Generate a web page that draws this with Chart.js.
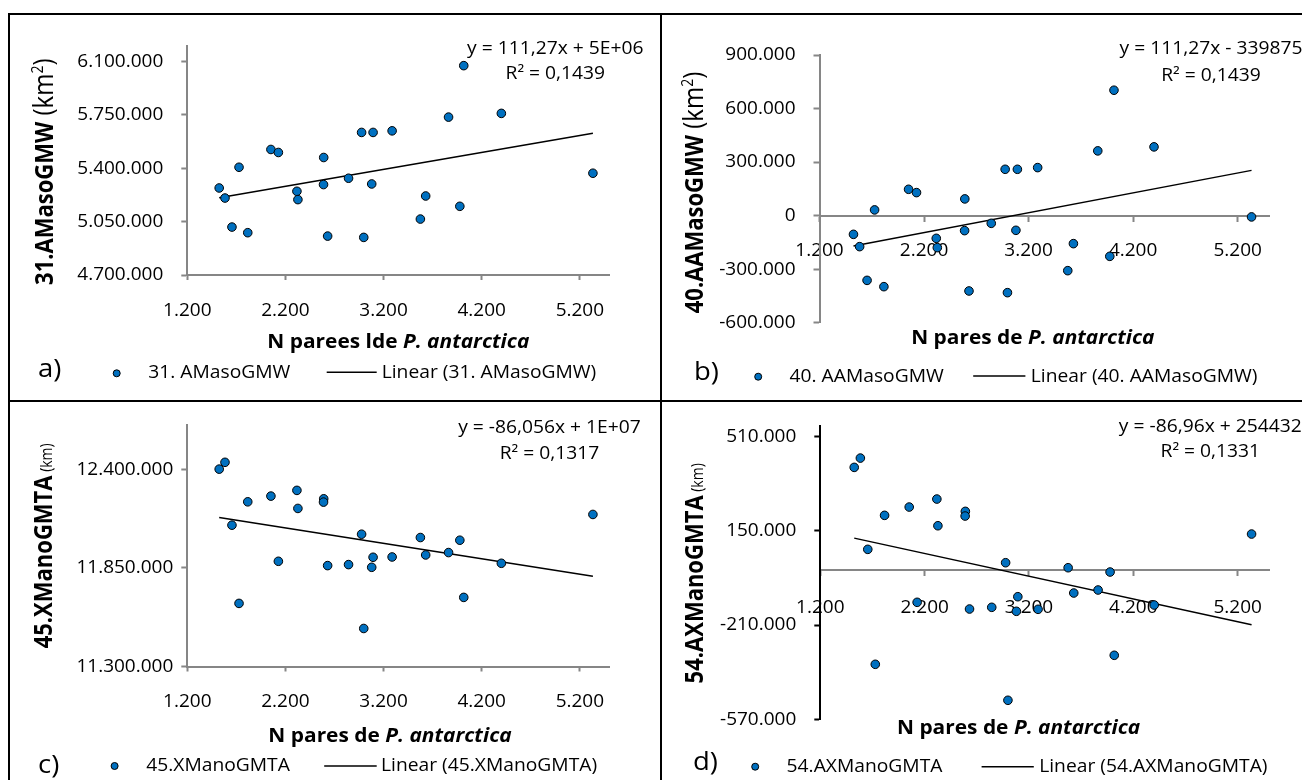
<!DOCTYPE html>
<html>
<head>
<meta charset="utf-8">
<script src="https://cdn.jsdelivr.net/npm/chart.js"></script>
<style>
  html, body { margin: 0; padding: 0; background: #fff; }
  #wrap { position: relative; width: 1302px; height: 780px; overflow: hidden; background: #fff; }
  #wrap canvas { position: absolute; left: 0; top: 0; }
  .rule { position: absolute; background: #000; }
</style>
</head>
<body>
<div id="wrap">
  <canvas id="cA" width="1302" height="780"></canvas>
  <canvas id="cB" width="1302" height="780"></canvas>
  <canvas id="cC" width="1302" height="780"></canvas>
  <canvas id="cD" width="1302" height="780"></canvas>
  <div class="rule" style="left:8px;top:13px;width:1294px;height:2px"></div>
  <div class="rule" style="left:8px;top:13px;width:2px;height:767px"></div>
  <div class="rule" style="left:660px;top:13px;width:2px;height:767px"></div>
  <div class="rule" style="left:8px;top:400px;width:1294px;height:2px"></div>
</div>
<script>
// Number of P. antarctica breeding pairs (shared by all four panels)
const pairsX = [1525, 1584, 1655, 1727, 1816, 2052, 2128, 2317, 2327, 2590, 2588, 2630, 2843,
                2976, 2998, 3093, 3079, 3287, 3575, 3629, 3862, 3977, 4017, 4400, 5333];

// a) 31. AMasoGMW (km²)
const areaA = [5271000, 5205000, 5014500, 5407000, 4977600, 5523700, 5504000, 5249300, 5194700,
               5471000, 5293400, 4955300, 5334900, 5635500, 4946700, 5635500, 5297400, 5646000,
               5067000, 5218400, 5736000, 5150700, 6073700, 5760500, 5367800];
// b) 40. AAMasoGMW (km²)
const anomalyB = [-104900, -173800, -362800, 32000, -398100, 147500, 129000, -127300, -179400,
                  93600, -84100, -422200, -43200, 259600, -431700, 259600, -82400, 269100,
                  -308400, -157000, 362800, -228200, 702600, 385200, -7300];
// c) 45.XManoGMTA (km)
const lengthC = [12401000, 12439000, 12088400, 11652000, 12218700, 12250600, 11886900, 12282500,
                 12181800, 12235500, 12217000, 11862900, 11868500, 12038000, 11512100, 11909300,
                 11853400, 11911000, 12019500, 11922200, 11935600, 12004400, 11685500, 11875800,
                 12148200];
// d) 54.AXManoGMTA (km)
const anomalyD = [392000, 427500, 79000, -360000, 208800, 240500, -123300, 271000, 169100,
                  224000, 206100, -148900, -142400, 27900, -497400, -101900, -157600, -150000,
                  8800, -87800, -76300, -7600, -325600, -133600, 137400];

// Linear trend lines: [slope, intercept]
const trendA = [111.27, 5037000];
const trendB = [111.27, -339875];
const trendC = [-86.056, 12263000];
const trendD = [-86.96, 254432];

// Axis ranges and tick values
const xRange = [1200, 5500];
const xTicks = [1200, 2200, 3200, 4200, 5200];
const yRangeA = [4700000, 6200000];
const yTicksA = [4700000, 5050000, 5400000, 5750000, 6100000];
const yRangeB = [-600000, 900000];
const yTicksB = [-600000, -300000, 0, 300000, 600000, 900000];
const yRangeC = [11300000, 12650000];
const yTicksC = [11300000, 11850000, 12400000];
const yRangeD = [-570000, 550000];
const yTicksD = [-570000, -210000, 150000, 510000];

const FAM = '"Open Sans", "Noto Sans", sans-serif';
const BLUE = '#0070C0';
const GRAY = '#868686';
const SX = 1.1;          // horizontal stretch used for the annotation text
const W = 1302, H = 780;
const Y_BOX = 140;       // fixed width reserved for the y tick labels
const X_BOX = 60;        // fixed height reserved for the x tick labels
const TICK_SIZE = 19;

const font = (style, size) => `${style} ${size}px ${FAM}`.trim();

// 1234567 -> "1.234.567"
function fmt(v) {
  const s = Math.abs(Math.round(v)).toString().replace(/\B(?=(\d{3})+(?!\d))/g, '.');
  return (v < 0 ? '-' : '') + s;
}

// Draws a run of differently styled text pieces as one line
function drawRich(ctx, parts, x, y, align, rotate) {
  ctx.save();
  ctx.translate(x, y);
  ctx.scale(SX, 1);
  if (rotate) ctx.rotate(-Math.PI / 2);
  let w = 0;
  for (const p of parts) { ctx.font = p.f; w += ctx.measureText(p.t).width; }
  let cx = align === 'center' ? -w / 2 : (align === 'right' ? -w : 0);
  ctx.textAlign = 'left';
  ctx.textBaseline = 'alphabetic';
  ctx.fillStyle = '#000';
  for (const p of parts) {
    ctx.font = p.f;
    ctx.fillText(p.t, cx, p.dy || 0);
    cx += ctx.measureText(p.t).width;
  }
  ctx.restore();
}

function drawDecor(chart, p) {
  const ctx = chart.ctx;
  const ds = chart.data.datasets;
  ctx.save();
  // trend equation and R²
  for (const [t, y] of p.eq.lines) drawRich(ctx, [{ t, f: font('', 17.5) }], p.eq.x, y, 'center');
  // axis titles
  drawRich(ctx, p.yTitle.parts, p.yTitle.x, p.yTitle.y, 'center', true);
  drawRich(ctx, p.xTitle.parts, p.xTitle.x, p.xTitle.y, 'center');
  // panel letter
  drawRich(ctx, [{ t: p.letter.t, f: font('', 25) }], p.letter.x, p.letter.y, 'left');
  // legend: marker sample + series name, line sample + trend name
  const L = p.legend;
  ctx.beginPath();
  ctx.arc(L.dotX, L.dotY, 3.5, 0, Math.PI * 2);
  ctx.fillStyle = BLUE;
  ctx.fill();
  ctx.lineWidth = 1;
  ctx.strokeStyle = '#000';
  ctx.stroke();
  drawRich(ctx, [{ t: ds[0].label, f: font('', 17.5) }], L.textX, L.base, 'left');
  ctx.beginPath();
  ctx.moveTo(L.line[0], L.lineY);
  ctx.lineTo(L.line[1], L.lineY);
  ctx.lineWidth = 1.5;
  ctx.strokeStyle = '#000';
  ctx.stroke();
  drawRich(ctx, [{ t: ds[1].label, f: font('', 17.5) }], L.text2X, L.base, 'left');
  ctx.restore();
}

function buildPanel(p) {
  const xLo = Math.min(...pairsX), xHi = Math.max(...pairsX);
  const [slope, intercept] = p.trend;
  const bottomPad = p.zeroAxis ? H - p.area.bottom : H - p.area.bottom - X_BOX;
  return new Chart(document.getElementById(p.canvas), {
    type: 'scatter',
    data: {
      datasets: [
        {
          label: p.label,
          data: pairsX.map((x, i) => ({ x, y: p.values[i] })),
          backgroundColor: BLUE, borderColor: '#000', borderWidth: 1,
          pointRadius: 4.3, pointHoverRadius: 4.3, order: 0
        },
        {
          type: 'line',
          label: 'Linear (' + p.label + ')',
          data: [{ x: xLo, y: slope * xLo + intercept }, { x: xHi, y: slope * xHi + intercept }],
          borderColor: '#000', borderWidth: 1.5, pointRadius: 0, showLine: true, fill: false, order: 1
        }
      ]
    },
    options: {
      responsive: false, animation: false, devicePixelRatio: 1, events: [],
      layout: { padding: { left: p.area.left - Y_BOX, right: W - p.area.right, top: p.area.top, bottom: bottomPad } },
      plugins: { legend: { display: false }, tooltip: { enabled: false } },
      scales: {
        x: {
          type: 'linear', min: xRange[0], max: xRange[1],
          position: p.zeroAxis ? { y: 0 } : 'bottom',
          afterBuildTicks: s => { s.ticks = xTicks.map(v => ({ value: v })); },
          afterFit: s => { s.height = p.zeroAxis ? 0 : X_BOX; },
          ticks: { callback: v => fmt(v), font: { family: FAM, size: TICK_SIZE }, color: '#000',
                   padding: p.xPad, maxRotation: 0, minRotation: 0, autoSkip: false },
          grid: { display: true, drawOnChartArea: false, drawTicks: true, tickLength: 5, tickWidth: 2, tickColor: GRAY },
          border: { display: true, color: GRAY, width: 2 }
        },
        y: {
          type: 'linear', min: p.yRange[0], max: p.yRange[1], position: 'left',
          afterBuildTicks: s => { s.ticks = p.yTicks.map(v => ({ value: v })); },
          afterFit: s => { s.width = Y_BOX; },
          ticks: { callback: v => fmt(v), font: { family: FAM, size: TICK_SIZE }, color: '#000',
                   padding: p.yPad, autoSkip: false },
          grid: { display: true, drawOnChartArea: false, drawTicks: true, tickLength: 6, tickWidth: 2, tickColor: p.yAxisColor },
          border: { display: true, color: p.yAxisColor, width: 2 }
        }
      }
    },
    plugins: [{ id: 'decor' + p.canvas, afterDraw: chart => drawDecor(chart, p) }]
  });
}

const boldT = font('bold', 22), normT = font('', 24), supT = font('', 14), smallT = font('', 14);
const xtB = font('bold', 19), xtBI = font('italic bold', 19);

buildPanel({
  canvas: 'cA', label: '31. AMasoGMW', values: areaA, trend: trendA,
  area: { left: 187.3, right: 609.3, top: 46.4, bottom: 275 },
  yRange: yRangeA, yTicks: yTicksA, zeroAxis: false, xPad: 19, yPad: 18, yAxisColor: GRAY,
  eq: { x: 555.3, lines: [['y = 111,27x + 5E+06', 54.3], ['R\u00B2 = 0,1439', 79.3]] },
  yTitle: { x: 53, y: 171.7, parts: [{ t: '31.AMasoGMW', f: boldT }, { t: ' (km', f: normT }, { t: '2', f: supT, dy: -9 }, { t: ')', f: normT }] },
  xTitle: { x: 398.3, y: 348.3, parts: [{ t: 'N parees lde ', f: xtB }, { t: 'P. antarctica', f: xtBI }] },
  letter: { t: 'a)', x: 38, y: 377.3 },
  legend: { dotX: 116.7, dotY: 373.3, textX: 148.3, base: 378.3, line: [326.7, 376.7], lineY: 372.3, text2X: 381.7 }
});

buildPanel({
  canvas: 'cB', label: '40. AAMasoGMW', values: anomalyB, trend: trendB,
  area: { left: 819.5, right: 1269, top: 55, bottom: 322.7 },
  yRange: yRangeB, yTicks: yTicksB, zeroAxis: true, xPad: 19, yPad: 18, yAxisColor: GRAY,
  eq: { x: 1211, lines: [['y = 111,27x - 339875', 54.3], ['R\u00B2 = 0,1439', 81]] },
  yTitle: { x: 703, y: 192.5, parts: [{ t: '40.AAMasoGMW', f: boldT }, { t: ' (km', f: normT }, { t: '2', f: supT, dy: -9 }, { t: ')', f: normT }] },
  xTitle: { x: 1032.8, y: 344, parts: [{ t: 'N pares de ', f: xtB }, { t: 'P. antarctica', f: xtBI }] },
  letter: { t: 'b)', x: 694, y: 380 },
  legend: { dotX: 758.2, dotY: 376.7, textX: 789.5, base: 381.7, line: [973.2, 1025.4], lineY: 376, text2X: 1030.8 }
});

buildPanel({
  canvas: 'cC', label: '45.XManoGMTA', values: lengthC, trend: trendC,
  area: { left: 187.3, right: 609.3, top: 424.5, bottom: 666.5 },
  yRange: yRangeC, yTicks: yTicksC, zeroAxis: false, xPad: 19, yPad: 8, yAxisColor: GRAY,
  eq: { x: 549.5, lines: [['y = -86,056x + 1E+07', 433.3], ['R\u00B2 = 0,1317', 459]] },
  yTitle: { x: 52, y: 545.8, parts: [{ t: '45.XManoGMTA', f: boldT }, { t: ' (km)', f: smallT }] },
  xTitle: { x: 390, y: 741.7, parts: [{ t: 'N pares de ', f: xtB }, { t: 'P. antarctica', f: xtBI }] },
  letter: { t: 'c)', x: 38, y: 773 },
  legend: { dotX: 114.6, dotY: 766, textX: 146.2, base: 771, line: [324.2, 376.7], lineY: 766, text2X: 381 }
});

buildPanel({
  canvas: 'cD', label: '54.AXManoGMTA', values: anomalyD, trend: trendD,
  area: { left: 820.3, right: 1269, top: 426, bottom: 719.3 },
  yRange: yRangeD, yTicks: yTicksD, zeroAxis: true, xPad: 21, yPad: 18, yAxisColor: '#000',
  eq: { x: 1210.3, lines: [['y = -86,96x + 254432', 431.7], ['R\u00B2 = 0,1331', 456.7]] },
  yTitle: { x: 703, y: 573.3, parts: [{ t: '54.AXManoGMTA', f: boldT }, { t: ' (km)', f: smallT }] },
  xTitle: { x: 1018.6, y: 734, parts: [{ t: 'N pares de ', f: xtB }, { t: 'P. antarctica', f: xtBI }] },
  letter: { t: 'd)', x: 693, y: 770 },
  legend: { dotX: 755.2, dotY: 766.7, textX: 786.6, base: 771.7, line: [981.6, 1033.8], lineY: 766.7, text2X: 1039.2 }
});
</script>
</body>
</html>
